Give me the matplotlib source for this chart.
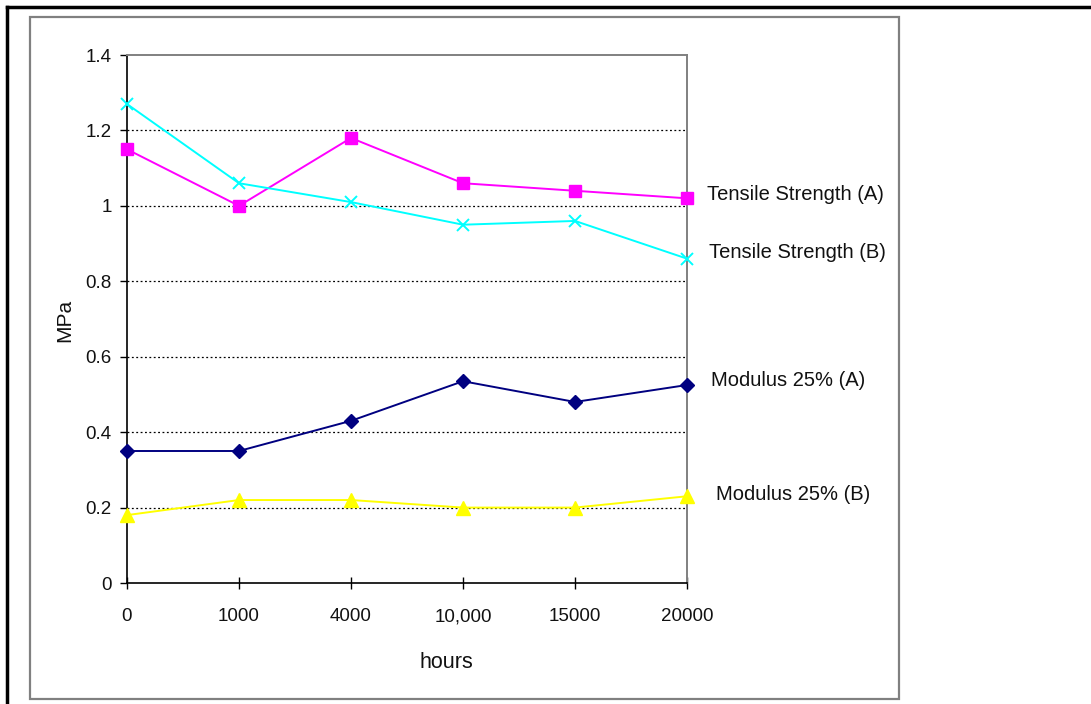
import matplotlib
matplotlib.use("Agg")
import matplotlib.pyplot as plt
from matplotlib.patches import Rectangle
from matplotlib.lines import Line2D
from matplotlib.transforms import ScaledTranslation

plt.rcParams['font.family'] = ['Liberation Sans', 'DejaVu Sans']

hours = ["0", "1000", "4000", "10,000", "15000", "20000"]
tensile_a = [1.15, 1.00, 1.18, 1.06, 1.04, 1.02]
tensile_b = [1.27, 1.06, 1.01, 0.95, 0.96, 0.86]
modulus_a = [0.35, 0.35, 0.43, 0.535, 0.48, 0.525]
modulus_b = [0.18, 0.22, 0.22, 0.20, 0.20, 0.23]
series_names = ["Tensile Strength (A)", "Tensile Strength (B)",
                "Modulus 25% (A)", "Modulus 25% (B)"]

W, H = 1091, 704
fig = plt.figure(figsize=(W / 100, H / 100), dpi=100)
fig.patch.set_facecolor("white")

def fx(px):
    return px / W

def fy(py):
    return 1 - py / H

# outer page frame and chart-area border
fig.add_artist(Line2D([fx(7), fx(W)], [fy(7), fy(7)], color="black", lw=2.5))
fig.add_artist(Line2D([fx(7), fx(7)], [fy(7), fy(H)], color="black", lw=2.5))
fig.add_artist(Rectangle((fx(30), fy(699)), fx(899) - fx(30), fy(17) - fy(699),
                         fill=False, edgecolor="#808080", lw=1.6))

ax = fig.add_axes([fx(127), fy(583), fx(687) - fx(127), fy(55) - fy(583)])
x = list(range(len(hours)))

ax.plot(x, tensile_a, color="#ff00ff", lw=1.4, marker="s", ms=8.5,
        zorder=3, clip_on=False)
ax.plot(x, tensile_b, color="#00ffff", lw=1.4, marker="x", ms=9, mew=1.4,
        zorder=3, clip_on=False)
ax.plot(x, modulus_a, color="#000080", lw=1.4, marker="D", ms=7,
        zorder=3, clip_on=False)
ax.plot(x, modulus_b, color="#ffff00", lw=1.4, marker="^", ms=9.5,
        zorder=3, clip_on=False)

ax.set_xlim(0, len(hours) - 1)
ax.set_ylim(0, 1.4)
ax.set_xticks(x)
ax.set_xticklabels([])
ax.set_yticks([0, 0.2, 0.4, 0.6, 0.8, 1.0, 1.2, 1.4])
ax.set_yticklabels(["0", "0.2", "0.4", "0.6", "0.8", "1", "1.2", "1.4"])

for v in [0.2, 0.4, 0.6, 0.8, 1.0, 1.2]:
    ax.axhline(v, color="black", lw=0.9, ls=(0, (1.5, 2)), zorder=1)

for side in ["top", "right"]:
    ax.spines[side].set_color("#808080")
    ax.spines[side].set_linewidth(1.4)
for side in ["left", "bottom"]:
    ax.spines[side].set_color("black")
    ax.spines[side].set_linewidth(1.2)

ax.tick_params(axis="y", direction="out", length=5, width=1, pad=6,
               labelsize=13.5, labelcolor="#111111")
ax.tick_params(axis="x", direction="inout", length=9, width=1)

# hour labels sit on a common baseline below the axis
lbl_trans = ax.get_xaxis_transform() + ScaledTranslation(0, -0.38, fig.dpi_scale_trans)
for xi, lab in zip(x, hours):
    ax.text(xi, 0, lab, transform=lbl_trans, ha="center", va="baseline",
            fontsize=13.5, color="#111111", clip_on=False)

fig.text(fx(446), fy(663), "hours", fontsize=15.5, ha="center", va="center",
         color="#111111")
fig.text(fx(65), fy(320), "MPa", fontsize=15, ha="center", va="center",
         rotation=90, color="#111111")

# series names placed beside the last point of each line
label_pos = [(707, 194), (709, 252), (711, 381), (716, 495)]
for name, (px, py) in zip(series_names, label_pos):
    fig.text(fx(px), fy(py), name, fontsize=14.5, va="center", ha="left",
             color="#111111")

fig.savefig("out.png", dpi=100, facecolor="white")
